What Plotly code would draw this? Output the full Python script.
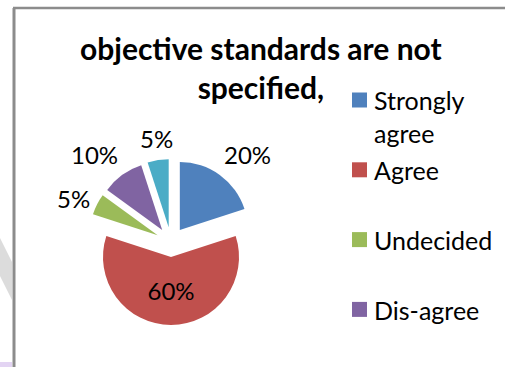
import math
import plotly.graph_objects as go

# Survey responses
categories = ["Strongly agree", "Agree", "Undecided", "Dis-agree", "Strongly disagree"]
percent = [20, 60, 5, 10, 5]
colors = ["#4F81BD", "#C0504D", "#9BBB59", "#8064A2", "#4BACC6"]
legend_text = ["Strongly<br>agree", "Agree", "Undecided", "Dis-agree", "Strongly<br>disagree"]
inside_label = [False, True, False, False, False]
chart_title = "objective standards are not<br>specified,"

W, H = 505, 367
FONT = "Lato"
LABEL_SIZE = 24

# Pie geometry in pixels (centre, radius, explosion)
CX, CY = 171, 242
R = 68
PULL = 0.22
half = R * (1 + PULL)


def clamp01(v):
    return max(0.0, min(1.0, v))


fig = go.Figure()

fig.add_trace(go.Pie(
    labels=categories,
    values=percent,
    marker=dict(colors=colors, line=dict(width=0)),
    sort=False,
    direction="clockwise",
    rotation=0,
    pull=[PULL] * len(percent),
    texttemplate=["%{value}%" if inside else "" for inside in inside_label],
    textposition="inside",
    insidetextorientation="horizontal",
    textfont=dict(family=FONT, size=LABEL_SIZE, color="black"),
    showlegend=False,
    hoverinfo="label+percent",
    domain=dict(x=[(CX - half) / W, (CX + half) / W],
                y=[(H - CY - half) / H, (H - CY + half) / H]),
))

shapes = []
annotations = []

# Outside percentage labels: anchored just beyond the exploded rim on each
# slice's bisector, then shifted away from the pie by the text box size
total = sum(percent)
cum = 0
for v, inside in zip(percent, inside_label):
    mid = (cum + v / 2) / total * 2 * math.pi
    cum += v
    if inside:
        continue
    dx, dy = math.sin(mid), -math.cos(mid)
    txt = f"{v}%"
    tw = 0.62 * LABEL_SIZE * len(txt)
    px = CX + (half + 10) * dx
    py = CY + (half + 10) * dy
    ox = math.copysign(tw / 2 * clamp01((abs(dx) - 0.15) / 0.4), dx)
    oy = math.copysign(12 * clamp01((abs(dy) - 0.4) / 0.4), dy)
    x, y = px + ox, py + oy
    annotations.append(dict(xref="paper", yref="paper", x=x / W, y=(H - y) / H,
                            xanchor="center", yanchor="middle", text=txt,
                            showarrow=False,
                            font=dict(family=FONT, size=LABEL_SIZE, color="black")))

# Chart frame (left and top edges)
shapes.append(dict(type="line", xref="paper", yref="paper",
                   x0=14 / W, x1=14 / W, y0=0, y1=(H - 8) / H,
                   line=dict(color="#8c8c8c", width=3)))
shapes.append(dict(type="line", xref="paper", yref="paper",
                   x0=13 / W, x1=1.0, y0=(H - 8) / H, y1=(H - 8) / H,
                   line=dict(color="#8c8c8c", width=2.5)))

# Faint page marks at the left margin
shapes.append(dict(type="path", xref="paper", yref="paper",
                   path=f"M 0 {(H-238)/H} L {12/W} {(H-262)/H} L {12/W} {(H-300)/H} L 0 {(H-276)/H} Z",
                   fillcolor="#dcdcdc", line=dict(width=0)))
shapes.append(dict(type="rect", xref="paper", yref="paper",
                   x0=0, x1=12 / W, y0=0, y1=5 / H,
                   fillcolor="#e3d4f3", line=dict(width=0)))

# Legend built from the category list; entries that run past the
# bottom of the chart area are left out
for i, (lab, col) in enumerate(zip(legend_text, colors)):
    yc = 100 + 69.8 * i
    if yc + 20 > H:
        break
    shapes.append(dict(type="rect", xref="paper", yref="paper",
                       x0=352 / W, x1=367 / W,
                       y0=(H - yc - 7.5) / H, y1=(H - yc + 7.5) / H,
                       fillcolor=col, line=dict(width=0)))
    annotations.append(dict(xref="paper", yref="paper", x=372 / W, y=(H - yc + 16.5) / H,
                            xanchor="left", yanchor="top", align="left",
                            text=lab, showarrow=False,
                            font=dict(family=FONT, size=25, color="black")))

# Title
annotations.append(dict(xref="paper", yref="paper", x=261 / W, y=(H - 68) / H,
                        xanchor="center", yanchor="middle", align="center",
                        text=f"<b>{chart_title}</b>", showarrow=False,
                        font=dict(family=FONT, size=30, color="black")))

fig.update_layout(
    width=W, height=H,
    margin=dict(l=0, r=0, t=0, b=0),
    paper_bgcolor="white",
    plot_bgcolor="white",
    shapes=shapes,
    annotations=annotations,
)

fig.write_html("out.html")
